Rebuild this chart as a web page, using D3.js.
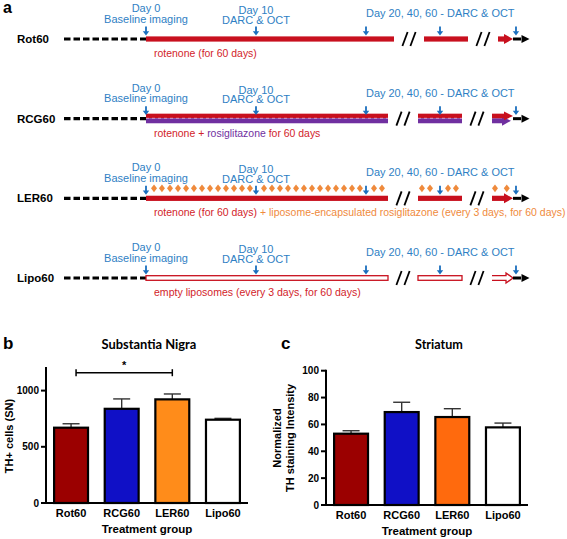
<!DOCTYPE html>
<html><head><meta charset="utf-8">
<script src="https://cdn.jsdelivr.net/npm/d3@7/dist/d3.min.js"></script>
<style>body{margin:0;background:#fff}svg{display:block;font-family:"Liberation Sans",Arial,sans-serif}</style>
</head><body>
<svg id="fig" width="567" height="539"></svg>
<script>
// ================= DATA =================
const groups = ["Rot60", "RCG60", "LER60", "Lipo60"];
// panel b – Substantia Nigra, TH+ cells
const snValues = [670, 838, 922, 741];
const snErrors = [35, 88, 48, 12];
const snTicks = [0, 500, 1000];
const snMax = 1200;
// panel c – Striatum, normalized TH staining intensity
const stValues = [53.1, 69.2, 65.5, 57.8];
const stErrors = [2.2, 7.3, 6.2, 3.2];
const stTicks = [0, 20, 40, 60, 80, 100];
const stMax = 100;
// significance (panel b)
const sigPair = ["Rot60", "LER60"];
const sigLabel = "*";
// panel a – timeline
const imagingDays = [0, 10, 20, 40, 60];
const rowStyles = ["solid", "dual", "solid", "hollow"];
const doseDays = [0.73,1.45,2.18,2.91,3.64,4.36,5.09,5.82,6.55,7.27,8.0,8.73,9.45,
  10.73,11.45,12.18,12.91,13.64,14.36,15.09,15.82,16.55,17.27,18.0,18.73,19.45,
  20.73,21.45, 38.36,39.09,40.73,41.45, 58.09,59.16];
const segmentDays = [[0, 22], [38, 42], [57.82, 59.73]];
const breakDays = [30, 49.9];
const preDay = -7.45;
const labelsDay0 = ["Day 0", "Baseline imaging"];
const labelsDay10 = ["Day 10", "DARC & OCT"];
const labelLater = "Day 20, 40, 60 - DARC & OCT";

const C = {red:"#c8101e", redText:"#d2232a", purple:"#7030a0", orange:"#ef8a3c",
  blueText:"#2f7fc4", blueArrow:"#1b6fbe"};
const descriptions = [
  [{t:"rotenone (for 60 days)", c:C.redText}],
  [{t:"rotenone + ", c:C.redText},{t:"rosiglitazone", c:C.purple},{t:" for 60 days", c:C.redText}],
  [{t:"rotenone (for 60 days) ", c:C.redText},{t:"+ liposome-encapsulated rosiglitazone (every 3 days, for 60 days)", c:C.orange}],
  [{t:"empty liposomes (every 3 days, for 60 days)", c:C.redText}]
];
const descWidths = [103, 167, 412, 207];

// ================= LAYOUT =================
const svg = d3.select("#fig");
svg.append("rect").attr("width",567).attr("height",539).attr("fill","#fff");
const FONT = '"Liberation Sans", Arial, sans-serif';

function fitText(g, x, y, parts, size, weight, targetW, anchor) {
  const t = g.append("text").attr("font-size", size).attr("font-weight", weight)
    .attr("font-family", FONT);
  parts.forEach(p => t.append("tspan").attr("fill", p.c).text(p.t));
  const w = t.node().getBBox().width;
  const k = targetW ? targetW / w : 1;
  const x0 = anchor === "middle" ? -w / 2 : 0;
  t.attr("x", x0).attr("y", 0).attr("transform", `translate(${x},${y}) scale(${k},1)`);
  return t;
}

// panel letters
svg.append("text").attr("x",3).attr("y",13).attr("font-size",16).attr("font-weight","bold").text("a");
svg.append("text").attr("x",3).attr("y",349).attr("font-size",17).attr("font-weight","bold").text("b");
svg.append("text").attr("x",281).attr("y",349).attr("font-size",17).attr("font-weight","bold").text("c");

// ---------- panel a ----------
const tx = d3.scaleLinear().domain([preDay, 0, 22, 38, 42, 57.82, 62])
  .range([64, 146, 388, 418, 462, 492, 538]);
const rowY = d3.scalePoint().domain(groups).range([39, 278]);
const rowShift = [6, 0, 0, 0];

groups.forEach((name, i) => {
  const y = rowY(name), s = rowShift[i], style = rowStyles[i];
  const g = svg.append("g");
  g.append("text").attr("x",17).attr("y",y+4).attr("font-size",11.5).attr("font-weight","bold").text(name);
  g.append("line").attr("x1",tx(preDay)).attr("x2",tx(0)).attr("y1",y).attr("y2",y)
    .attr("stroke","#000").attr("stroke-width",3.2).attr("stroke-dasharray","6.5,3");
  const segs = segmentDays.map((d, k) => [k === 0 ? tx(d[0]) : tx(d[0]) + s, k === 2 ? tx(d[1]) : tx(d[1]) + s]);
  segs.slice(0, 2).forEach(([a, b]) => {
    if (style === "solid") {
      g.append("rect").attr("x",a).attr("y",y-2.6).attr("width",b-a).attr("height",5.2).attr("fill",C.red);
    } else if (style === "dual") {
      g.append("rect").attr("x",a).attr("y",y-5).attr("width",b-a).attr("height",4.6).attr("fill",C.red);
      g.append("rect").attr("x",a).attr("y",y-0.4).attr("width",b-a).attr("height",5).attr("fill",C.purple);
      g.append("line").attr("x1",a).attr("x2",b).attr("y1",y-0.4).attr("y2",y-0.4)
        .attr("stroke","#e9a6c8").attr("stroke-width",0.8).attr("stroke-dasharray","3,3");
    } else {
      g.append("rect").attr("x",a).attr("y",y-2.3).attr("width",b-a).attr("height",4.6)
        .attr("fill","#fff").attr("stroke",C.red).attr("stroke-width",1.3);
    }
  });
  const [a3, tip] = segs[2];
  if (style === "solid") {
    g.append("rect").attr("x",a3).attr("y",y-2.6).attr("width",tip-6-a3).attr("height",5.2).attr("fill",C.red);
    g.append("path").attr("d",`M${tip-9},${y-5}L${tip},${y}L${tip-9},${y+5}Z`).attr("fill",C.red);
  } else if (style === "dual") {
    g.append("rect").attr("x",a3).attr("y",y-0.4).attr("width",tip-10-a3).attr("height",5).attr("fill",C.purple);
    g.append("path").attr("d",`M${tip-11},${y-2}L${tip-2},${y+2.1}L${tip-11},${y+7}Z`).attr("fill",C.purple);
    g.append("rect").attr("x",a3).attr("y",y-5).attr("width",tip-7-a3).attr("height",4.6).attr("fill",C.red);
    g.append("path").attr("d",`M${tip-9},${y-7.2}L${tip},${y-2.7}L${tip-9},${y+1.6}Z`).attr("fill",C.red);
  } else {
    g.append("path").attr("d",`M${a3},${y-2.3}L${tip-7},${y-2.3}L${tip-7},${y-5}L${tip},${y}L${tip-7},${y+5}L${tip-7},${y+2.3}L${a3},${y+2.3}`)
      .attr("fill","#fff").attr("stroke",C.red).attr("stroke-width",1.3);
  }
  g.append("line").attr("x1",tip).attr("x2",tip+8).attr("y1",y).attr("y2",y).attr("stroke","#000").attr("stroke-width",3);
  g.append("path").attr("d",`M${tip+8.5},${y-4}L${tip+16.5},${y}L${tip+8.5},${y+4}Z`).attr("fill","#000");
  breakDays.forEach(d => {
    const cx = tx(d) + s;
    [-4, 4].forEach(o => g.append("line").attr("x1",cx+o-2.6).attr("y1",y+7).attr("x2",cx+o+2.6).attr("y2",y-7)
      .attr("stroke","#000").attr("stroke-width",1.8));
  });
  if (name === "LER60") {
    g.selectAll("path.dose").data(doseDays).join("path").attr("class","dose")
      .attr("d", d => { const x = tx(d), yy = y - 10; return `M${x},${yy-3.8}L${x+3},${yy}L${x},${yy+3.8}L${x-3},${yy}Z`; })
      .attr("fill", C.orange);
  }
  g.selectAll("path.img").data(imagingDays).join("path").attr("class","img")
    .attr("d", d => { const x = tx(d); return `M${x-0.9},${y-12.5}L${x+0.9},${y-12.5}L${x+0.9},${y-7.8}L${x+3.2},${y-7.8}L${x},${y-3.6}L${x-3.2},${y-7.8}L${x-0.9},${y-7.8}Z`; })
    .attr("fill", C.blueArrow);
  const lab = (x, yy, t, anchor) => g.append("text").attr("x",x).attr("y",yy).attr("font-size",11)
    .attr("fill",C.blueText).attr("text-anchor",anchor).text(t);
  lab(tx(0), y-27, labelsDay0[0], "middle");
  lab(tx(0), y-16.5, labelsDay0[1], "middle");
  lab(tx(10), y-25, labelsDay10[0], "middle");
  lab(tx(10), y-15.5, labelsDay10[1], "middle");
  fitText(g, tx(20), y-22, [{t:labelLater, c:C.blueText}], 11, "normal", 149, "start");
  fitText(g, 154, y+18, descriptions[i], 11, "normal", descWidths[i], "start");
});

// ---------- bar panels ----------
function barPanel(o) {
  const g = svg.append("g");
  const x = d3.scaleBand().domain(groups).range([o.ax, o.ax2]).paddingInner(0.33).paddingOuter(0.16);
  const y = d3.scaleLinear().domain([0, o.max]).range([o.y0, o.yTop]);
  g.append("line").attr("x1",o.ax).attr("x2",o.ax).attr("y1",y(0)+1).attr("y2",y(o.max)-1)
    .attr("stroke","#000").attr("stroke-width",2);
  g.append("line").attr("x1",o.ax-1).attr("x2",o.ax2).attr("y1",y(0)).attr("y2",y(0))
    .attr("stroke","#000").attr("stroke-width",2);
  o.ticks.forEach(t => {
    g.append("line").attr("x1",o.ax-5).attr("x2",o.ax).attr("y1",y(t)).attr("y2",y(t)).attr("stroke","#000").attr("stroke-width",2);
    g.append("text").attr("x",o.ax-7).attr("y",y(t)+3.6).attr("text-anchor","end")
      .attr("font-size",10).attr("font-weight","bold").text(t);
  });
  groups.forEach((k, i) => {
    const cx = x(k) + x.bandwidth()/2, top = y(o.values[i]), e = y(o.values[i] + o.errors[i]);
    g.append("line").attr("x1",cx).attr("x2",cx).attr("y1",top).attr("y2",e).attr("stroke","#333").attr("stroke-width",1.4);
    g.append("line").attr("x1",cx-8.5).attr("x2",cx+8.5).attr("y1",e).attr("y2",e).attr("stroke","#333").attr("stroke-width",1.4);
  });
  g.selectAll("rect.bar").data(groups).join("rect").attr("class","bar")
    .attr("x", k => x(k)).attr("width", x.bandwidth())
    .attr("y", (k, i) => y(o.values[i])).attr("height", (k, i) => y(0) - y(o.values[i]))
    .attr("fill", (k, i) => o.colors[i]).attr("stroke","#000").attr("stroke-width",2.2);
  groups.forEach(k => g.append("text").attr("x", x(k)+x.bandwidth()/2).attr("y", o.y0+14)
    .attr("text-anchor","middle").attr("font-size",11).attr("font-weight","bold").text(k));
  g.append("text").attr("x",(o.ax+o.ax2)/2).attr("y",o.y0+30).attr("text-anchor","middle")
    .attr("font-size",11.5).attr("font-weight","bold").text("Treatment group");
  const tt = g.append("text").attr("font-family","Lato, 'Open Sans', sans-serif").attr("font-size",13)
    .attr("font-weight","bold").text(o.title);
  const w = tt.node().getBBox().width, k = o.titleW / w;
  tt.attr("x", -w/2).attr("y", 0).attr("transform", `translate(${o.titleX},349) scale(${k},1)`);
  o.ylab.forEach((l) => g.append("text").attr("transform",`translate(${l.x},${o.ymid}) rotate(-90)`)
    .attr("text-anchor","middle").attr("font-size",11).attr("font-weight","bold").text(l.t));
  return {g, x, y};
}

const pb = barPanel({ax:46, ax2:248, y0:503, yTop:503-1200*0.1124, max:snMax, ticks:snTicks,
  values:snValues, errors:snErrors, colors:["#9b0000","#1010c6","#ff8c1a","#ffffff"],
  title:"Substantia Nigra", titleX:149, titleW:95, ymid:436, ylab:[{x:13, t:"TH+ cells (SN)"}]});
const pc = barPanel({ax:326, ax2:528, y0:505, yTop:370.7, max:stMax, ticks:stTicks,
  values:stValues, errors:stErrors, colors:["#9b0000","#1010c6","#ff6a0d","#ffffff"],
  title:"Striatum", titleX:439, titleW:48, ymid:438, ylab:[{x:281, t:"Normalized"},{x:294, t:"TH staining Intensity"}]});

{
  const x1 = pb.x(sigPair[0]) + pb.x.bandwidth()/2 + 5, x2 = pb.x(sigPair[1]) + pb.x.bandwidth()/2;
  const yy = 372.7;
  pb.g.append("line").attr("x1",x1).attr("x2",x2).attr("y1",yy).attr("y2",yy).attr("stroke","#000").attr("stroke-width",1.5);
  [x1, x2].forEach(xx => pb.g.append("line").attr("x1",xx).attr("x2",xx).attr("y1",yy-3.5).attr("y2",yy+3.5).attr("stroke","#000").attr("stroke-width",1.5));
  pb.g.append("text").attr("x",(x1+x2)/2).attr("y",yy-3.5).attr("text-anchor","middle")
    .attr("font-size",11).attr("font-weight","bold").text(sigLabel);
}
</script>
</body></html>
